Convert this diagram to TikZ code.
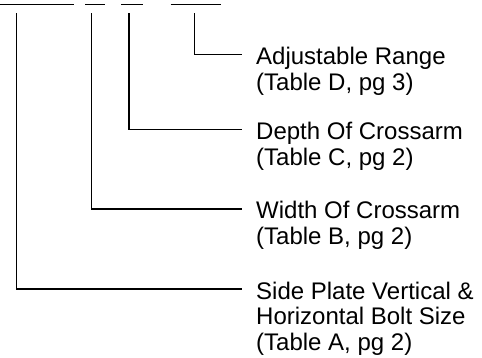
\documentclass[tikz,border=0pt]{standalone}
\usepackage{fontspec}
\setmainfont{Liberation Sans}
\newcommand{\tagtext}[1]{\begin{tabular}[t]{@{}l@{}}#1\end{tabular}}
\tikzset{
  lbl/.style={anchor=base west, inner sep=0pt,
    font=\fontsize{24}{25.6}\selectfont},
  wire/.style={line width=1.5pt},
}
\begin{document}
\begin{tikzpicture}[x=1pt, y=-1pt]
  \useasboundingbox (0,0) rectangle (482,358);
  % blanks of the part number
  \draw [wire] (0,4.7) -- (74,4.7);
  \draw [wire] (85.3,4.7) -- (105.3,4.7);
  \draw [wire] (121,4.7) -- (143.3,4.7);
  \draw [wire] (170.7,4.7) -- (220.7,4.7);
  % labels
  \node [lbl] (range) at (256,64.5) {\tagtext{Adjustable Range\\(Table D, pg 3)}};
  \node [lbl] (depth) at (256,139.5) {\tagtext{Depth Of Crossarm\\(Table C, pg 2)}};
  \node [lbl] (width) at (256,219) {\tagtext{Width Of Crossarm\\(Table B, pg 2)}};
  \node [lbl] (bolt) at (256,299) {\tagtext{Side Plate Vertical \&\\Horizontal Bolt Size\\(Table A, pg 2)}};
  % leaders
  \coordinate (rangeTop) at (194.3,13.3);
  \coordinate (depthTop) at (129,13.3);
  \coordinate (widthTop) at (91.3,13.3);
  \coordinate (boltTop) at (16.7,13.3);
  \draw [wire] (rangeTop) |- ([xshift=-14pt,yshift=10pt]range.base west);
  \draw [wire] (depthTop) |- ([xshift=-14pt,yshift=10pt]depth.base west);
  \draw [wire] (widthTop) |- ([xshift=-14pt,yshift=10pt]width.base west);
  \draw [wire] (boltTop) |- ([xshift=-14pt,yshift=10pt]bolt.base west);
\end{tikzpicture}
\end{document}
